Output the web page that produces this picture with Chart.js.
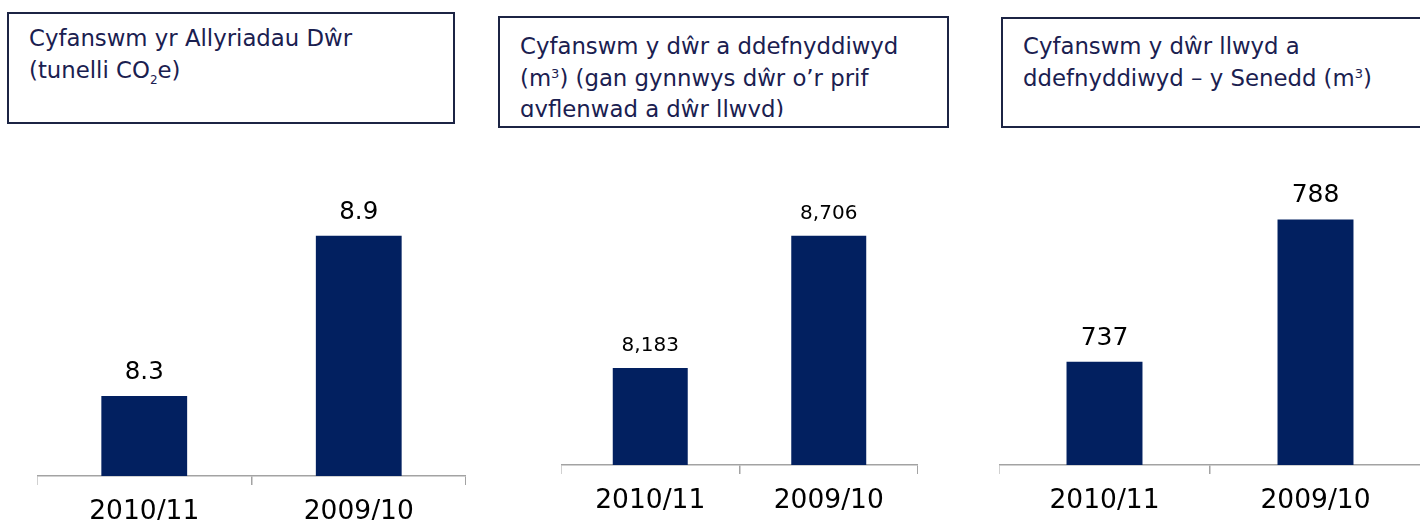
<!DOCTYPE html>
<html lang="cy">
<head>
    <meta charset="UTF-8">
    <title>Allyriadau a defnydd dŵr</title>
    <script src="https://cdn.jsdelivr.net/npm/chart.js"></script>
    <style>
        body {
            margin: 0;
            width: 1420px;
            height: 520px;
            overflow: hidden;
            position: relative;
            background: #fff;
            font-family: "DejaVu Sans", Verdana, sans-serif;
        }
        .box {
            position: absolute;
            box-sizing: border-box;
            border: 2px solid #1c2444;
            background: #fff;
            overflow: hidden;
            color: #1a2050;
            font-size: 22.8px;
            line-height: 31.5px;
            padding-left: 20px;
        }
        .box .txt {
            overflow: hidden;
        }
        .box sub {
            font-size: 12px;
            vertical-align: -6px;
            line-height: 0;
        }
        .box sup {
            font-size: 13px;
            vertical-align: 8px;
            line-height: 0;
        }
        canvas {
            position: absolute;
        }
    </style>
</head>
<body>
    <div class="box" style="left:7px; top:12px; width:448px; height:112px; padding-top:9px;">
        <div class="txt">Cyfanswm yr Allyriadau Dŵr<br>(tunelli CO<sub>2</sub>e)</div>
    </div>
    <div class="box" style="left:498px; top:16px; width:451px; height:112px; padding-top:13px;">
        <div class="txt" style="height:86px;">Cyfanswm y dŵr a ddefnyddiwyd<br>(m<sup>3</sup>) (gan gynnwys dŵr o’r prif<br>gyflenwad a dŵr llwyd)</div>
    </div>
    <div class="box" style="left:1001px; top:17px; width:450px; height:111px; padding-top:12px;">
        <div class="txt">Cyfanswm y dŵr llwyd a<br>ddefnyddiwyd – y Senedd (m<sup>3</sup>)</div>
    </div>

    <canvas id="chart1" width="429" height="378" style="left:37px; top:150px;"></canvas>
    <canvas id="chart2" width="357" height="367" style="left:561px; top:150px;"></canvas>
    <canvas id="chart3" width="422" height="387" style="left:999px; top:130px;"></canvas>

    <script>
        // data
        const categories = ['2010/11', '2009/10'];
        const emissions = [8.3, 8.9];        // tunelli CO2e
        const waterUsed = [8183, 8706];      // m3
        const greyWater = [737, 788];        // m3

        const barColor = '#022060';
        const axisColor = '#a3a3a3';

        // draw value above each bar
        const valueLabels = {
            id: 'valueLabels',
            afterDatasetsDraw(chart, args, opts) {
                const ctx = chart.ctx;
                const meta = chart.getDatasetMeta(0);
                const data = chart.data.datasets[0].data;
                ctx.save();
                ctx.fillStyle = '#000';
                ctx.font = opts.size + 'px "DejaVu Sans", sans-serif';
                ctx.textAlign = 'center';
                ctx.textBaseline = 'alphabetic';
                meta.data.forEach((bar, i) => {
                    ctx.fillText(opts.format(data[i]), bar.x, bar.y - 17);
                });
                ctx.restore();
            }
        };

        function makeChart(id, values, min, max, barPct, padTop, labelSize, format) {
            return new Chart(document.getElementById(id), {
                type: 'bar',
                data: {
                    labels: categories,
                    datasets: [{
                        data: values,
                        backgroundColor: barColor,
                        borderWidth: 0,
                        barPercentage: barPct,
                        categoryPercentage: 1
                    }]
                },
                options: {
                    responsive: false,
                    animation: false,
                    devicePixelRatio: 1,
                    layout: { padding: { top: padTop, left: 0, right: 0, bottom: 0 } },
                    plugins: {
                        legend: { display: false },
                        tooltip: { enabled: false },
                        valueLabels: { size: labelSize, format: format }
                    },
                    scales: {
                        x: {
                            afterFit: s => { s.height = 52; },
                            border: { display: true, color: axisColor, width: 1.5 },
                            grid: {
                                display: true,
                                drawOnChartArea: false,
                                drawTicks: true,
                                tickLength: 9,
                                color: axisColor,
                                lineWidth: 1.5
                            },
                            ticks: {
                                color: '#000',
                                padding: 11,
                                maxRotation: 0,
                                font: { family: '"DejaVu Sans", sans-serif', size: 26.5 }
                            }
                        },
                        y: {
                            display: false,
                            min: min,
                            max: max
                        }
                    }
                },
                plugins: [valueLabels]
            });
        }

        makeChart('chart1', emissions, 8, 9, 0.40, 59, 24.5, v => v.toFixed(1));
        makeChart('chart2', waterUsed, 7800, 8800, 0.42, 62, 20, v => v.toLocaleString('en-GB'));
        makeChart('chart3', greyWater, 700, 800, 0.36, 56, 25, v => String(v));
    </script>
</body>
</html>
